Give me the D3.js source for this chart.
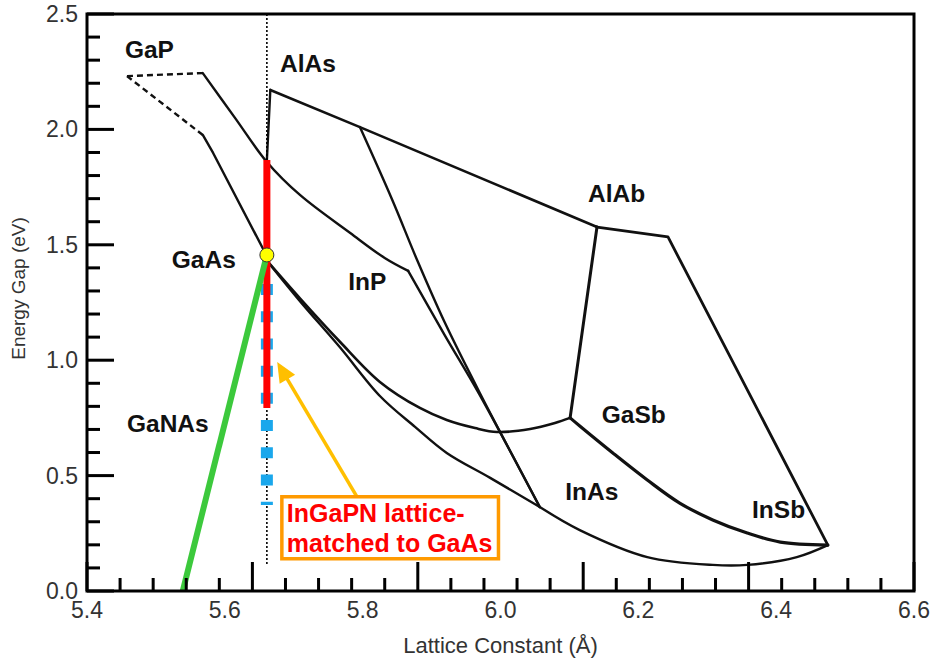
<!DOCTYPE html>
<html><head><meta charset="utf-8">
<script src="https://cdn.jsdelivr.net/npm/d3@7"></script>
<style>body{margin:0;background:#fff}svg{display:block}</style>
</head><body>
<svg id="c" width="933" height="660"></svg>
<script>
// ---------- DATA ----------
const xTickValues = [5.4, 5.6, 5.8, 6.0, 6.2, 6.4, 6.6];
const xTickLabels = ["5.4", "5.6", "5.8", "6.0", "6.2", "6.4", "6.6"];
const yTickValues = [0, 0.5, 1.0, 1.5, 2.0, 2.5];
const yTickLabels = ["0.0", "0.5", "1.0", "1.5", "2.0", "2.5"];
const xMinorStep = 0.048;
const yMinorStep = 0.1;

// binary / ternary curves: [lattice constant (Å), energy gap (eV)]
const gapDashedUpper = [[5.458, 2.231], [5.568, 2.244]];
const gapDashedLower = [[5.458, 2.231], [5.568, 1.976]];
const gaInP   = [[5.568, 2.244], [5.615, 2.049], [5.661, 1.859], [5.709, 1.716], [5.782, 1.551], [5.832, 1.443], [5.866, 1.387]];
const gaAsP   = [[5.568, 1.976], [5.583, 1.898], [5.662, 1.445]];
const alGaAs  = [[5.661, 1.867], [5.666, 2.171]];
const alAsSb  = [[5.666, 2.171], [5.796, 2.010], [6.140, 1.577]];
const alInSb  = [[6.140, 1.577], [6.243, 1.534], [6.475, 0.199]];
const alGaSb  = [[6.140, 1.577], [6.101, 0.750]];
const alInAs  = [[5.796, 2.010], [5.843, 1.694], [5.879, 1.434], [5.919, 1.164], [5.970, 0.858], [6.057, 0.364]];
const inAsP   = [[5.866, 1.387], [5.919, 1.109], [5.970, 0.849], [6.057, 0.364]];
const gaAsSb  = [[5.662, 1.428], [5.709, 1.268], [5.767, 1.080], [5.825, 0.906], [5.883, 0.793], [5.922, 0.741], [5.963, 0.706], [5.995, 0.689], [6.043, 0.702], [6.079, 0.728], [6.101, 0.750]];
const gaInAs  = [[5.662, 1.428], [5.709, 1.256], [5.767, 1.056], [5.825, 0.845], [5.876, 0.711], [5.922, 0.598], [5.985, 0.490], [6.057, 0.364]];
const inAsSb  = [[6.057, 0.364], [6.115, 0.264], [6.213, 0.147], [6.308, 0.113], [6.358, 0.113], [6.430, 0.147], [6.475, 0.199]];
const gaInSb  = [[6.101, 0.750], [6.115, 0.715], [6.163, 0.598], [6.213, 0.481], [6.260, 0.381], [6.308, 0.308], [6.358, 0.251], [6.406, 0.212], [6.475, 0.199]];

// GaAs lattice-matched overlays
const gaAsPoint   = [5.661, 1.456];
const redSegment  = [[5.661, 0.793], [5.661, 1.867]];
const blueSegment = [[5.661, 1.330], [5.661, 0.373]];
const dottedLine  = [[5.661, 2.5], [5.661, 0.113]];
const gaNAs       = [[5.539, 0.0], [5.661, 1.456]];
const arrowLine   = [[5.792, 0.407], [5.676, 0.992]];

const labels = [
  {text: "GaP",   x: 5.455, y: 2.309},
  {text: "AlAs",  x: 5.680, y: 2.249},
  {text: "AlAb",  x: 6.127, y: 1.685},
  {text: "InP",   x: 5.779, y: 1.304},
  {text: "GaAs",  x: 5.523, y: 1.399},
  {text: "GaNAs", x: 5.458, y: 0.689},
  {text: "GaSb",  x: 6.147, y: 0.728},
  {text: "InAs",  x: 6.094, y: 0.394},
  {text: "InSb",  x: 6.365, y: 0.316}
];
const noteLines = ["InGaPN lattice-", "matched to GaAs"];
const notePos = [5.690, 0.300];

// ---------- CHART ----------
const FONT = "'Liberation Sans', Arial, Helvetica, sans-serif";
const svg = d3.select("#c");
const xs = d3.scaleLinear().domain([5.4, 6.6]).range([87, 914]);
const ys = d3.scaleLinear().domain([0, 2.5]).range([591, 14]);
const X0 = xs(5.4), Y0 = ys(0);

svg.append("rect").attr("width", 933).attr("height", 660).attr("fill", "#fff");

const pathLine = d3.line().x(d => xs(d[0])).y(d => ys(d[1]));
const pathSmooth = d3.line().x(d => xs(d[0])).y(d => ys(d[1])).curve(d3.curveCatmullRom.alpha(0.5));

const curves = [
  {d: gaInP, w: 2.4, s: pathSmooth}, {d: gaAsP, w: 2.4, s: pathLine}, {d: alGaAs, w: 2.4, s: pathLine},
  {d: alAsSb, w: 2.6, s: pathLine}, {d: alInSb, w: 2.8, s: pathLine}, {d: alGaSb, w: 3.0, s: pathLine},
  {d: alInAs, w: 2.4, s: pathSmooth}, {d: inAsP, w: 2.4, s: pathSmooth}, {d: gaAsSb, w: 2.6, s: pathSmooth},
  {d: gaInAs, w: 2.4, s: pathSmooth}, {d: inAsSb, w: 2.4, s: pathSmooth}, {d: gaInSb, w: 3.2, s: pathSmooth}
];
const gc = svg.append("g").attr("fill", "none").attr("stroke", "#111").attr("stroke-linejoin", "round").attr("stroke-linecap", "round");
curves.forEach(c => gc.append("path").attr("d", c.s(c.d)).attr("stroke-width", c.w));
[gapDashedUpper, gapDashedLower].forEach(d =>
  gc.append("path").attr("d", pathLine(d)).attr("stroke-width", 2.4).attr("stroke-dasharray", "6,4").attr("stroke-linecap", "butt"));

// dotted vertical
svg.append("path").attr("d", pathLine(dottedLine)).attr("stroke", "#000").attr("stroke-width", 1.6)
  .attr("stroke-dasharray", "2,2").attr("fill", "none");
// blue dashed
svg.append("path").attr("d", pathLine(blueSegment)).attr("stroke", "#1aa7ec").attr("stroke-width", 12)
  .attr("stroke-dasharray", "11,16.2").attr("fill", "none");
// red
svg.append("path").attr("d", pathLine(redSegment)).attr("stroke", "#ff0000").attr("stroke-width", 7).attr("fill", "none");
// green GaNAs
svg.append("path").attr("d", pathLine(gaNAs)).attr("stroke", "#3cc93c").attr("stroke-width", 6).attr("fill", "none");
// GaAs point
svg.append("circle").attr("cx", xs(gaAsPoint[0])).attr("cy", ys(gaAsPoint[1])).attr("r", 7)
  .attr("fill", "#ffff00").attr("stroke", "#333").attr("stroke-width", 1);

// tick labels
svg.append("g").selectAll("text").data(xTickValues).join("text")
  .attr("x", d => xs(d)).attr("y", Y0 + 27).attr("text-anchor", "middle")
  .attr("font-size", 23).attr("font-family", FONT).attr("fill", "#333").text((d, i) => xTickLabels[i]);
svg.append("g").selectAll("text").data(yTickValues).join("text")
  .attr("x", X0 - 9).attr("y", d => ys(d) + 8).attr("text-anchor", "end")
  .attr("font-size", 23).attr("font-family", FONT).attr("fill", "#333").text((d, i) => yTickLabels[i]);

// axis titles
svg.append("text").attr("x", (X0 + xs(6.6)) / 2).attr("y", 653).attr("text-anchor", "middle")
  .attr("font-size", 22).attr("font-family", FONT).attr("fill", "#333").text("Lattice Constant (Å)");
svg.append("text").attr("transform", `translate(25,${(Y0 + ys(2.5)) / 2 - 14}) rotate(-90)`).attr("text-anchor", "middle")
  .attr("font-size", 19).attr("font-family", FONT).attr("fill", "#333").text("Energy Gap (eV)");

// compound labels
svg.append("g").selectAll("text").data(labels).join("text")
  .attr("x", d => xs(d.x)).attr("y", d => ys(d.y)).attr("font-size", 24.5).attr("font-weight", "bold")
  .attr("font-family", FONT).attr("fill", "#111").text(d => d.text);

// arrow
const p0 = [xs(arrowLine[0][0]), ys(arrowLine[0][1])], p1 = [xs(arrowLine[1][0]), ys(arrowLine[1][1])];
const ddx = p1[0] - p0[0], ddy = p1[1] - p0[1], len = Math.hypot(ddx, ddy), ux = ddx / len, uy = ddy / len;
const hl = 20, hw = 9;
const base = [p1[0] - ux * hl, p1[1] - uy * hl];
svg.append("line").attr("x1", p0[0]).attr("y1", p0[1]).attr("x2", base[0] + ux * 2).attr("y2", base[1] + uy * 2)
  .attr("stroke", "#ffbf00").attr("stroke-width", 3.5);
svg.append("polygon").attr("points", [p1, [base[0] - uy * hw, base[1] + ux * hw], [base[0] + uy * hw, base[1] - ux * hw]].map(p => p.join(",")).join(" "))
  .attr("fill", "#ffbf00");

// annotation box
const note = svg.append("g");
const rect = note.append("rect");
const nt = note.append("text").attr("font-size", 25).attr("font-weight", "bold").attr("font-family", FONT).attr("fill", "#ff0000");
noteLines.forEach((t, i) => nt.append("tspan").attr("x", xs(notePos[0])).attr("y", ys(notePos[1]) + i * 30).text(t));
const bb = nt.node().getBBox();
rect.attr("x", bb.x - 5).attr("y", bb.y - 2).attr("width", bb.width + 11).attr("height", bb.height + 4)
  .attr("fill", "#fff").attr("stroke", "#ff9a00").attr("stroke-width", 3.5);

// frame
svg.append("rect").attr("x", X0).attr("y", ys(2.5)).attr("width", xs(6.6) - X0).attr("height", Y0 - ys(2.5))
  .attr("fill", "none").attr("stroke", "#000").attr("stroke-width", 3);
// inward ticks drawn as filled rectangles from the scales
const xMinor = d3.range(0, 26).map(k => 5.4 + k * xMinorStep);
const yMinor = d3.range(0, 26).map(k => k * yMinorStep);
svg.append("g").selectAll("rect").data(xMinor).join("rect")
  .attr("x", d => xs(d) - 1.5).attr("width", 3)
  .attr("y", (d, i) => Y0 - (i % 5 === 0 ? 29 : 13)).attr("height", (d, i) => (i % 5 === 0 ? 29 : 13))
  .attr("fill", "#000");
svg.append("g").selectAll("rect").data(yMinor).join("rect")
  .attr("x", X0).attr("width", (d, i) => (i % 5 === 0 ? 27 : 13))
  .attr("y", d => ys(d) - 1.5).attr("height", 3)
  .attr("fill", "#000");
</script>
</body></html>
